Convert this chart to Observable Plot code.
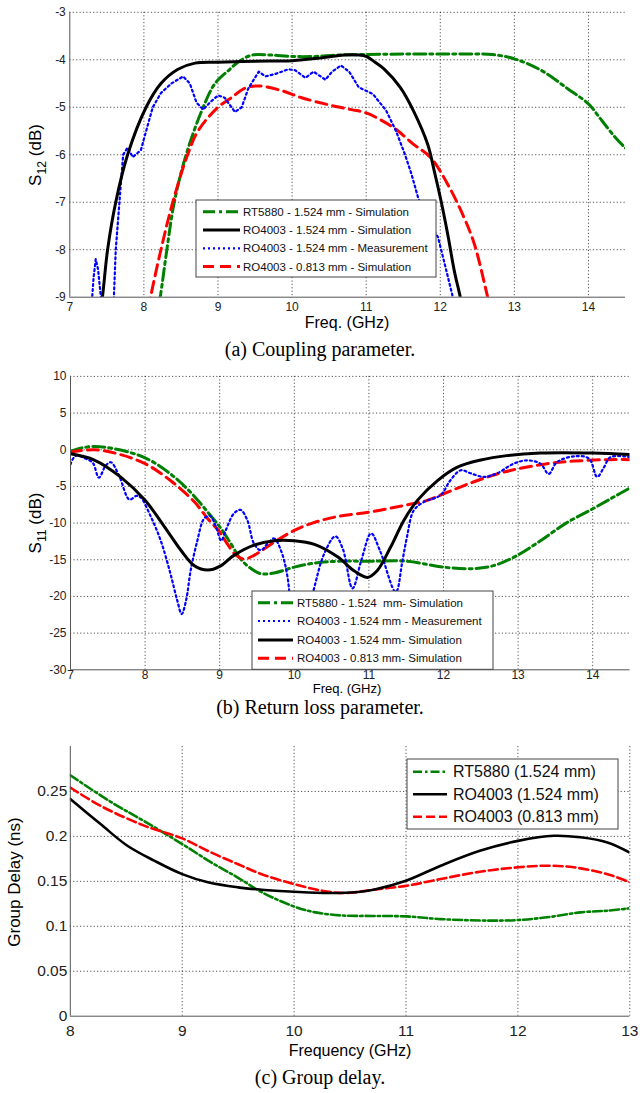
<!DOCTYPE html>
<html><head><meta charset="utf-8">
<script src="https://cdn.jsdelivr.net/npm/d3@7"></script>
<script src="https://cdn.jsdelivr.net/npm/@observablehq/plot@0.6"></script>
<style>
body{margin:0;background:#fff;}
#wrap{position:relative;width:640px;height:1093px;overflow:hidden;background:#fff;}
.panel{position:absolute;left:0;}
.cap{position:absolute;left:0;width:640px;text-align:center;font-family:"Liberation Serif","Times New Roman",serif;font-size:20px;line-height:24px;color:#000;}
</style></head><body><div id="wrap"></div>
<script>
// ---------- (a) Coupling parameter S12 ----------
const aXTicks = [7, 8, 9, 10, 11, 12, 13, 14];
const aYTicks = [-3, -4, -5, -6, -7, -8, -9];
const aRT5880Sim = [[8.15,-9.6],[8.22,-9],[8.31,-8],[8.41,-7],[8.57,-6],[8.80,-5],[8.96,-4.5],[9.16,-4.2],[9.27,-4.05],[9.46,-3.9],[9.7,-3.9],[10,-3.93],[10.3,-3.93],[10.6,-3.9],[10.95,-3.89],[11.5,-3.88],[12,-3.88],[12.4,-3.88],[12.7,-3.89],[13,-3.98],[13.36,-4.22],[13.72,-4.61],[14,-4.93],[14.18,-5.28],[14.36,-5.63],[14.5,-5.86]];
const aRO1524Sim = [[7.38,-9.6],[7.44,-9],[7.51,-8],[7.62,-7],[7.78,-6],[8.03,-5],[8.23,-4.5],[8.46,-4.2],[8.69,-4.07],[9,-4.05],[9.5,-4.03],[10,-4.02],[10.4,-3.96],[10.7,-3.9],[10.9,-3.9],[11.0,-3.93],[11.12,-4.05],[11.24,-4.19],[11.46,-4.58],[11.64,-5.08],[11.83,-5.78],[11.92,-6.35],[12.01,-6.97],[12.1,-7.67],[12.19,-8.45],[12.27,-9],[12.33,-9.5]];
const aRO1524Meas = [[7.28,-9.5],[7.32,-8.6],[7.35,-8.2],[7.38,-8.4],[7.42,-9],[7.45,-9.6],[7.58,-9.6],[7.62,-8],[7.67,-7],[7.72,-6],[7.78,-5.85],[7.85,-6.05],[7.96,-5.9],[8.03,-5.5],[8.12,-5.0],[8.23,-4.7],[8.37,-4.5],[8.53,-4.35],[8.62,-4.5],[8.71,-4.9],[8.80,-5.05],[8.89,-4.9],[9.0,-4.75],[9.09,-4.8],[9.23,-5.1],[9.32,-5.0],[9.41,-4.6],[9.55,-4.25],[9.64,-4.35],[9.77,-4.3],[9.95,-4.2],[10.04,-4.22],[10.18,-4.38],[10.29,-4.25],[10.45,-4.42],[10.54,-4.25],[10.66,-4.12],[10.77,-4.25],[10.9,-4.58],[11.09,-4.72],[11.27,-5.07],[11.4,-5.49],[11.52,-5.98],[11.61,-6.4],[11.7,-6.9],[11.8,-7.3],[11.97,-7.74],[12.06,-8.3],[12.17,-9],[12.22,-9.5]];
const aRO0813Sim = [[8.02,-9.6],[8.09,-9],[8.23,-8],[8.39,-7],[8.59,-6],[8.73,-5.5],[9.0,-5],[9.18,-4.8],[9.36,-4.6],[9.55,-4.55],[9.86,-4.65],[10.13,-4.8],[10.5,-4.95],[10.8,-5.05],[11,-5.12],[11.37,-5.43],[11.64,-5.78],[11.87,-6.06],[12.1,-6.62],[12.32,-7.32],[12.46,-7.88],[12.64,-9],[12.7,-9.4]];
const aLegend = ["RT5880 - 1.524 mm - Simulation","RO4003 - 1.524 mm - Simulation","RO4003 - 1.524 mm - Measurement","RO4003 - 0.813 mm - Simulation"];

// ---------- (b) Return loss S11 ----------
const bXTicks = [7, 8, 9, 10, 11, 12, 13, 14];
const bYTicks = [10, 5, 0, -5, -10, -15, -20, -25, -30];
const bRT5880Sim = [[7.0,-0.2],[7.15,0.25],[7.32,0.45],[7.58,0.15],[8,-1.1],[8.34,-3.3],[8.61,-5.8],[8.84,-8.5],[9,-10.5],[9.15,-12.8],[9.28,-14.9],[9.42,-16.2],[9.55,-16.9],[9.73,-16.8],[10,-16.0],[10.27,-15.45],[10.6,-15.2],[11,-15.2],[11.51,-15.2],[12,-16.0],[12.4,-16.2],[12.67,-15.8],[12.99,-14.4],[13.3,-12.4],[13.66,-9.9],[14,-8.05],[14.28,-6.45],[14.5,-5.2]];
const bRO1524Meas = [[7.0,-2.0],[7.07,-0.8],[7.2,-1.2],[7.3,-1.8],[7.38,-3.8],[7.47,-2.2],[7.54,-1.7],[7.65,-3.5],[7.79,-6.8],[7.88,-6.3],[7.94,-6.5],[8.08,-9.2],[8.21,-12.4],[8.34,-16.9],[8.43,-20.5],[8.49,-22.4],[8.55,-20.5],[8.61,-16.5],[8.7,-12.4],[8.79,-9.4],[8.87,-9.0],[8.95,-10.5],[9.02,-12.4],[9.08,-11],[9.19,-8.7],[9.28,-8.2],[9.37,-9.6],[9.46,-12.8],[9.55,-13.7],[9.64,-12.8],[9.73,-12.1],[9.82,-13.7],[9.91,-17.4],[10.03,-30.5],[10.15,-24],[10.27,-18.7],[10.4,-14.2],[10.55,-11.8],[10.65,-13.5],[10.78,-18.9],[10.9,-15],[11.03,-11.4],[11.15,-13.8],[11.36,-19.4],[11.45,-15.1],[11.51,-11.9],[11.6,-8.3],[11.74,-7.1],[11.96,-6.2],[12.09,-4.2],[12.23,-2.8],[12.36,-3.2],[12.54,-3.7],[12.72,-3.2],[12.94,-1.9],[13.12,-1.45],[13.3,-1.9],[13.41,-3.3],[13.52,-1.7],[13.75,-0.9],[13.95,-1.2],[14.06,-3.7],[14.15,-2.4],[14.24,-1.0],[14.5,-1.0]];
const bRO1524Sim = [[7.0,-0.55],[7.32,-1.4],[7.67,-3.7],[8,-6.9],[8.26,-10.5],[8.48,-13.7],[8.66,-15.8],[8.84,-16.4],[9,-15.9],[9.19,-14.4],[9.46,-13.0],[9.73,-12.4],[10,-12.4],[10.27,-12.9],[10.58,-14.6],[10.8,-16.5],[10.98,-17.4],[11.11,-16.5],[11.29,-13.3],[11.47,-9.6],[11.65,-6.9],[11.92,-4.2],[12.18,-2.4],[12.5,-1.4],[12.85,-0.8],[13.3,-0.45],[14,-0.45],[14.5,-0.65]];
const bRO0813Sim = [[7.0,-0.3],[7.32,0],[7.63,-0.55],[8,-1.9],[8.34,-4.2],[8.66,-7.1],[8.84,-9.4],[9,-11.2],[9.1,-12.8],[9.22,-14.4],[9.33,-14.9],[9.46,-14.4],[9.73,-12.6],[10,-11.0],[10.27,-9.9],[10.58,-9.1],[11,-8.5],[11.42,-7.7],[11.78,-6.9],[12,-6.0],[12.4,-4.4],[12.72,-3.3],[13,-2.6],[13.39,-1.9],[13.75,-1.55],[14.19,-1.35],[14.5,-1.35]];
const bLegend = ["RT5880 - 1.524  mm- Simulation","RO4003 - 1.524 mm - Measurement","RO4003 - 1.524 mm- Simulation","RO4003 - 0.813 mm- Simulation"];

// ---------- (c) Group delay ----------
const cXTicks = [8, 9, 10, 11, 12, 13];
const cYTicks = [0, 0.05, 0.1, 0.15, 0.2, 0.25];
const cRT5880 = [[8,0.268],[8.36,0.2385],[8.66,0.217],[9,0.1915],[9.26,0.171],[9.5,0.154],[9.71,0.138],[10,0.122],[10.19,0.1155],[10.43,0.112],[10.7,0.1115],[11,0.111],[11.31,0.108],[11.75,0.1063],[12,0.107],[12.26,0.11],[12.56,0.1155],[12.8,0.1174],[13,0.12]];
const cRO1524 = [[8,0.2415],[8.27,0.2137],[8.51,0.1896],[8.75,0.173],[9,0.158],[9.23,0.1489],[9.5,0.1433],[9.71,0.1407],[10,0.1385],[10.31,0.137],[10.55,0.1378],[10.71,0.1407],[11,0.1507],[11.31,0.1674],[11.66,0.184],[12,0.195],[12.32,0.2007],[12.56,0.199],[12.8,0.1933],[13,0.182]];
const cRO0813 = [[8,0.2544],[8.27,0.234],[8.66,0.212],[9,0.1978],[9.26,0.182],[9.5,0.169],[9.71,0.158],[10,0.147],[10.25,0.1396],[10.46,0.137],[10.71,0.1407],[11,0.145],[11.31,0.1526],[11.66,0.1607],[12,0.1656],[12.26,0.1674],[12.5,0.1656],[12.8,0.158],[13,0.149]];
const cLegend = ["RT5880 (1.524 mm)","RO4003 (1.524 mm)","RO4003 (0.813 mm)"];

const captions = ["(a) Coupling parameter.","(b) Return loss parameter.","(c) Group delay."];

// ---------- styles ----------
const SANS = "'Liberation Sans', Arial, Helvetica, sans-serif";
const GREEN = "#008000", RED = "#ff0000", BLUE = "#0000ff", BLACK = "#000000";
const stGreen = {stroke: GREEN, strokeWidth: 3, strokeDasharray: "12,4,3,4"};
const stBlack = {stroke: BLACK, strokeWidth: 3};
const stBlue = {stroke: BLUE, strokeWidth: 2.2, strokeDasharray: "2,3"};
const stRed = {stroke: RED, strokeWidth: 3, strokeDasharray: "11,6"};
const gridStyle = {stroke: "#000", strokeOpacity: 0.75, strokeWidth: 0.9, strokeDasharray: "1.2,2.2"};
const fmt = d => String(+d.toFixed(2));

function ln(data, st, curve = "catmull-rom") {
  return Plot.line(data, {x: d => d[0], y: d => d[1], curve, clip: true, strokeLinejoin: "round", ...st});
}

const wrap = document.getElementById("wrap");
function place(el, top) {
  const d = document.createElement("div");
  d.className = "panel"; d.style.top = top + "px";
  d.appendChild(el); wrap.appendChild(d);
}
function caption(txt, cy) {
  const d = document.createElement("div");
  d.className = "cap"; d.style.top = (cy - 12) + "px"; d.textContent = txt;
  wrap.appendChild(d);
}
function legend(svg, box, rows, sx0, sx1, tx, fs) {
  const g = d3.select(svg).append("g").attr("text-anchor", "start");
  g.append("rect").attr("x", box[0]).attr("y", box[1]).attr("width", box[2]).attr("height", box[3])
    .attr("fill", "#fff").attr("stroke", "#444").attr("stroke-width", 1);
  rows.forEach(r => {
    g.append("line").attr("x1", sx0).attr("x2", sx1).attr("y1", r.y).attr("y2", r.y)
      .attr("stroke", r.st.stroke).attr("stroke-width", r.st.strokeWidth)
      .attr("stroke-dasharray", r.st.strokeDasharray || null);
    g.append("text").attr("x", tx).attr("y", r.y).attr("dy", "0.36em").attr("text-anchor", "start")
      .attr("font-family", SANS).attr("font-size", fs).attr("fill", "#111").style("white-space", "pre").text(r.label);
  });
}
function ylabel(svg, x, y, fs, parts) {
  const t = d3.select(svg).append("text").attr("transform", `translate(${x},${y}) rotate(-90)`)
    .attr("text-anchor", "middle").attr("font-family", SANS).attr("font-size", fs).attr("fill", "#000");
  parts.forEach(p => {
    const s = t.append("tspan").text(p.t);
    if (p.sub) s.attr("font-size", fs * 0.72).attr("dy", fs * 0.3);
    if (p.back) s.attr("dy", -fs * 0.3);
  });
}
function xlabel(svg, x, y, fs, txt) {
  d3.select(svg).append("text").attr("x", x).attr("y", y).attr("dy", "0.35em")
    .attr("text-anchor", "middle").attr("font-family", SANS).attr("font-size", fs).attr("fill", "#000").text(txt);
}

// ---------- panel (a) ----------
const svgA = Plot.plot({
  width: 640, height: 338,
  marginTop: 11.8, marginBottom: 41.3, marginLeft: 69.3, marginRight: 15,
  style: {fontFamily: SANS, fontSize: "12px", color: "#222", background: "transparent"},
  x: {domain: [7, 14.5], label: null},
  y: {domain: [-9, -3], label: null},
  marks: [
    Plot.gridX({ticks: aXTicks.slice(1), ...gridStyle}),
    Plot.gridY({ticks: aYTicks.slice(0, -1), ...gridStyle}),
    ln(aRT5880Sim, stGreen),
    ln(aRO0813Sim, stRed),
    ln(aRO1524Meas, stBlue, "linear"),
    ln(aRO1524Sim, stBlack),
    Plot.ruleX([7], {stroke: "#555", strokeWidth: 1}),
    Plot.ruleY([-9], {stroke: "#555", strokeWidth: 1}),
    Plot.axisX({ticks: aXTicks, tickSize: 0, tickPadding: 5, tickFormat: fmt, label: null}),
    Plot.axisY({ticks: aYTicks, tickSize: 0, tickPadding: 4, tickFormat: fmt, label: null})
  ]
});
legend(svgA, [196, 200, 240, 77], [
  {y: 211.7, st: stGreen, label: aLegend[0]},
  {y: 230, st: stBlack, label: aLegend[1]},
  {y: 248.3, st: stBlue, label: aLegend[2]},
  {y: 266.5, st: stRed, label: aLegend[3]}
], 203, 240, 243, 11.5);
ylabel(svgA, 41, 155, 17, [{t: "S"}, {t: "12", sub: true}, {t: " (dB)", back: true}]);
xlabel(svgA, 347, 322, 16, "Freq. (GHz)");
place(svgA, 0);
caption(captions[0], 349);

// ---------- panel (b) ----------
const svgB = Plot.plot({
  width: 640, height: 340,
  marginTop: 13.9, marginBottom: 32.7, marginLeft: 70, marginRight: 10.5,
  style: {fontFamily: SANS, fontSize: "12px", color: "#222", background: "transparent"},
  x: {domain: [7, 14.5], label: null},
  y: {domain: [-30, 10], label: null},
  marks: [
    Plot.gridX({ticks: bXTicks.slice(1), ...gridStyle}),
    Plot.gridY({ticks: bYTicks.slice(0, -1), ...gridStyle}),
    ln(bRT5880Sim, stGreen),
    ln(bRO0813Sim, stRed),
    ln(bRO1524Meas, stBlue),
    ln(bRO1524Sim, stBlack),
    Plot.ruleX([7], {stroke: "#555", strokeWidth: 1}),
    Plot.ruleY([-30], {stroke: "#555", strokeWidth: 1}),
    Plot.axisX({ticks: bXTicks, tickSize: 0, tickPadding: 1, tickFormat: fmt, label: null}),
    Plot.axisY({ticks: bYTicks, tickSize: 0, tickPadding: 4, tickFormat: fmt, label: null})
  ]
});
legend(svgB, [252, 229, 241, 78.3], [
  {y: 240.7, st: stGreen, label: bLegend[0]},
  {y: 259, st: stBlue, label: bLegend[1]},
  {y: 278, st: stBlack, label: bLegend[2]},
  {y: 296.3, st: stRed, label: bLegend[3]}
], 258, 293, 297, 11.5);
ylabel(svgB, 41, 161, 17, [{t: "S"}, {t: "11", sub: true}, {t: " (dB)", back: true}]);
xlabel(svgB, 347, 326.5, 13, "Freq. (GHz)");
place(svgB, 362);
caption(captions[1], 707);

// ---------- panel (c) ----------
const stGreenC = {stroke: GREEN, strokeWidth: 2.6, strokeDasharray: "9,3,2.5,3"};
const stBlackC = {stroke: BLACK, strokeWidth: 2.6};
const stRedC = {stroke: RED, strokeWidth: 2.6, strokeDasharray: "9,4"};
const svgC = Plot.plot({
  width: 640, height: 322,
  marginTop: 6, marginBottom: 46.3, marginLeft: 69.8, marginRight: 10.7,
  style: {fontFamily: SANS, fontSize: "15.5px", color: "#222", background: "transparent"},
  x: {domain: [8, 13], label: null},
  y: {domain: [0, 0.3], label: null},
  marks: [
    Plot.gridX({ticks: cXTicks.slice(1), ...gridStyle}),
    Plot.gridY({ticks: cYTicks.slice(1), ...gridStyle}),
    ln(cRT5880, stGreenC),
    ln(cRO0813, stRedC),
    ln(cRO1524, stBlackC),
    Plot.ruleX([8], {stroke: "#555", strokeWidth: 1}),
    Plot.ruleY([0], {stroke: "#555", strokeWidth: 1}),
    Plot.axisX({ticks: cXTicks, tickSize: 0, tickPadding: 9, tickFormat: fmt, label: null}),
    Plot.axisY({ticks: cYTicks, tickSize: 0, tickPadding: 3, tickFormat: fmt, label: null})
  ]
});
legend(svgC, [407, 19, 211, 70], [
  {y: 31.7, st: stGreenC, label: cLegend[0]},
  {y: 54.3, st: stBlackC, label: cLegend[1]},
  {y: 76.7, st: stRedC, label: cLegend[2]}
], 413, 447, 453, 16);
ylabel(svgC, 20, 142, 17, [{t: "Group Delay (ns)"}]);
xlabel(svgC, 350, 310, 16, "Frequency (GHz)");
place(svgC, 740);
caption(captions[2], 1077);
</script></body></html>
